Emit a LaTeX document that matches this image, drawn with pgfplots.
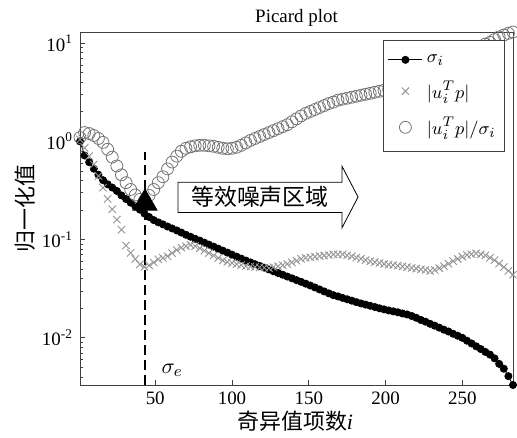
\documentclass[border=0pt]{standalone}
\usepackage{pgfplots}
\pgfplotsset{compat=1.18}
\usepackage{pgfplotstable}
\usepackage{fontspec}
\setmainfont{Liberation Serif}
\newfontfamily\cjk{Noto Sans CJK SC}

\pgfplotstableread{
x s c r
1 1.000 1.047 1.096
4 0.719 0.861 1.230
7 0.614 0.708 1.202
10 0.527 0.582 1.148
13 0.458 0.444 1.072
16 0.403 0.338 0.977
19 0.366 0.260 0.832
22 0.339 0.204 0.692
25 0.313 0.160 0.562
28 0.282 0.126 0.457
31 0.259 0.0871 0.380
34 0.238 0.0733 0.324
37 0.219 0.0635 0.285
40 0.202 0.0560 0.257
43 0.184 0.0528 0.251
46 0.170 0.0546 0.282
49 0.158 0.0585 0.324
52 0.150 0.0631 0.380
55 0.143 0.0653 0.437
58 0.136 0.0676 0.525
61 0.130 0.0728 0.617
64 0.124 0.0783 0.708
67 0.118 0.0830 0.794
70 0.112 0.0855 0.851
73 0.107 0.0883 0.881
76 0.102 0.0859 0.902
79 0.0977 0.0815 0.912
82 0.0931 0.0773 0.912
85 0.0889 0.0729 0.902
88 0.0849 0.0689 0.891
91 0.0809 0.0650 0.871
94 0.0773 0.0614 0.851
97 0.0738 0.0593 0.841
100 0.0703 0.0578 0.851
103 0.0671 0.0564 0.871
106 0.0641 0.0551 0.912
109 0.0612 0.0537 0.966
112 0.0586 0.0532 1.023
115 0.0562 0.0527 1.072
118 0.0540 0.0522 1.122
121 0.0518 0.0518 1.175
124 0.0497 0.0513 1.230
127 0.0476 0.0525 1.288
130 0.0457 0.0536 1.349
133 0.0439 0.0548 1.413
136 0.0421 0.0564 1.479
139 0.0404 0.0587 1.585
142 0.0387 0.0611 1.698
145 0.0372 0.0637 1.820
148 0.0356 0.0652 1.928
151 0.0341 0.0661 2.018
154 0.0326 0.0670 2.113
157 0.0311 0.0679 2.213
160 0.0297 0.0689 2.317
163 0.0284 0.0698 2.427
166 0.0272 0.0708 2.512
169 0.0264 0.0708 2.630
172 0.0255 0.0708 2.692
175 0.0247 0.0692 2.754
178 0.0239 0.0676 2.818
181 0.0231 0.0656 2.884
184 0.0224 0.0638 2.951
187 0.0218 0.0619 3.020
190 0.0212 0.0603 3.090
193 0.0206 0.0590 3.162
196 0.0200 0.0578 3.236
199 0.0195 0.0566 3.311
202 0.0190 0.0557 3.388
205 0.0186 0.0550 3.467
208 0.0182 0.0542 3.548
211 0.0177 0.0533 3.631
214 0.0173 0.0525 3.715
217 0.0167 0.0515 3.846
220 0.0160 0.0507 3.981
223 0.0152 0.0498 4.121
226 0.0146 0.0490 4.266
229 0.0139 0.0481 4.467
232 0.0133 0.0491 4.677
235 0.0127 0.0512 5.012
238 0.0121 0.0536 5.370
241 0.0116 0.0569 5.754
244 0.0110 0.0604 6.166
247 0.0105 0.0637 6.607
250 0.0100 0.0670 7.079
253 0.00935 0.0697 7.586
256 0.00877 0.0710 8.128
259 0.00820 0.0724 8.710
262 0.00769 0.0708 9.300
265 0.00719 0.0692 9.800
268 0.00675 0.0653 10.20
271 0.00618 0.0617 10.90
274 0.00543 0.0569 11.60
277 0.00485 0.0525 12.10
280 0.00407 0.0481 12.60
283 0.00331 0.0440 13.00
}\data

\begin{document}
\begin{tikzpicture}
\begin{axis}[
  name=ax,
  scale only axis,
  width=216.5bp, height=176.5bp,
  ymode=log,
  xmin=1, xmax=283, ymin=0.00331, ymax=13,
  xtick={50,100,150,200,250},
  ytick={0.01,0.1,1,10},
  yticklabels={10\textsuperscript{-2},10\textsuperscript{-1},10\textsuperscript{0},10\textsuperscript{1}},
  minor ytick={0.004,0.005,0.006,0.007,0.008,0.009,0.02,0.03,0.04,0.05,0.06,0.07,0.08,0.09,0.2,0.3,0.4,0.5,0.6,0.7,0.8,0.9,2,3,4,5,6,7,8,9},
  xtick pos=bottom, ytick pos=left,
  tick align=inside,
  major tick length=2.5bp, minor tick length=1.5bp,
  axis line style={black!75},
  every tick/.style={black!75},
  tick label style={font=\fontsize{9.5}{10}\selectfont},
  /pgf/number format/assume math mode=true,
  clip=false,
  title={Picard plot},
  every axis title shift=0pt,
  title style={at={(rel axis cs:0.5,1.0)}, anchor=center, yshift=7bp, font=\fontsize{9.5}{10}\selectfont},
  xlabel={{\cjk 奇异值项数}\textit{i}},
  ylabel={{\cjk 归一化值}},
  every axis x label/.style={at={(rel axis cs:0.497,-0.102)}, anchor=center, font=\fontsize{11}{12}\selectfont},
  every axis y label/.style={at={(rel axis cs:-0.127,0.5)}, rotate=90, anchor=center, font=\fontsize{11}{12}\selectfont},
  legend style={at={(rel axis cs:0.982,0.977)}, anchor=north east, draw=black!75, font=\fontsize{9.5}{10}\selectfont, row sep=4bp, inner xsep=2.5pt, inner ysep=5pt},
  legend cell align=left,
]
\addplot[black, line width=0.4pt, mark=*, mark size=1.8pt, mark options={solid, fill=black}] table[x=x,y=s]{\data};
\addlegendentry{$\sigma_i$}
\addplot[only marks, mark=x, mark size=2.6pt, color=black!42, mark options={line width=0.45pt}] table[x=x,y=c]{\data};
\addlegendentry{$|u_i^Tp|$}
\addplot[only marks, mark=o, mark size=3pt, color=black!55, mark options={line width=0.4pt}] table[x=x,y=r]{\data};
\addlegendentry{$|u_i^Tp|/\sigma_i$}
\addplot[black, line width=1pt, dash pattern=on 5bp off 2.5bp, forget plot] coordinates {(43.3,0.00331) (43.3,0.78)};
\addplot[only marks, mark=triangle*, mark size=7pt, black, forget plot] coordinates {(43.3,0.235)};
\draw[black, fill=white, line width=0.4pt]
  (axis cs:64.8,0.384) -- (axis cs:171.6,0.384) -- (axis cs:171.6,0.560)
  -- (axis cs:182.1,0.2715) -- (axis cs:171.6,0.1316) -- (axis cs:171.6,0.1887)
  -- (axis cs:64.8,0.1887) -- cycle;
\node[font=\cjk\fontsize{11.5}{12}\selectfont] at (axis cs:118.2,0.27) {等效噪声区域};
\node[anchor=west, font=\fontsize{11}{12}\selectfont] at (axis cs:49.5,0.0047) {$\sigma_e$};
\end{axis}
\pgfresetboundingbox
\path[use as bounding box] ([xshift=-40bp,yshift=-26.5bp]ax.south west) rectangle ([xshift=2bp,yshift=16bp]ax.north east);
\end{tikzpicture}
\end{document}
